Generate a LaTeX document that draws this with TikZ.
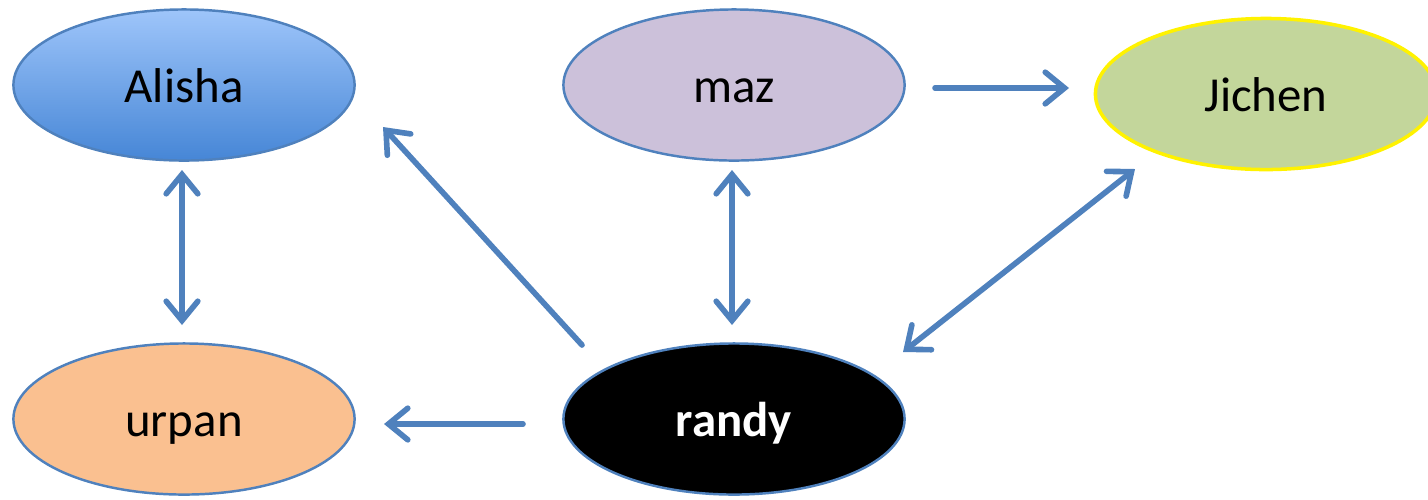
\documentclass[tikz,border=0pt]{standalone}
\usepackage{fontspec}
\setmainfont{Carlito}
\usetikzlibrary{shapes.geometric,arrows.meta,calc}
\definecolor{arrblue}{HTML}{4F81BD}
\definecolor{alitop}{HTML}{9EC5FA}
\definecolor{alibot}{HTML}{4686D6}
\definecolor{mazfill}{HTML}{CCC1DA}
\definecolor{jifill}{HTML}{C3D69B}
\definecolor{urfill}{HTML}{FAC090}
\tikzset{
  person/.style={ellipse, draw=arrblue, line width=0.7pt, minimum width=3.41cm, minimum height=1.51cm, inner sep=0pt,
    font=\fontsize{13.9}{16}\selectfont, text height=0.34cm, text depth=0pt},
  barb/.style={Straight Barb[length=5.5pt,width=9pt,line cap=round]},
  arr/.style={draw=arrblue, line width=1.6pt, line cap=round, -{Straight Barb[length=5.5pt,width=9pt,line cap=round]}},
  darr/.style={arr, {Straight Barb[length=5.5pt,width=9pt,line cap=round]}-{Straight Barb[length=5.5pt,width=9pt,line cap=round]}}
}
\begin{document}
\begin{tikzpicture}[x=0.01cm, y=-0.01cm]
\useasboundingbox (0,0) rectangle (1428,499);
\node[person, top color=alitop, bottom color=alibot] (alisha) at (184,85) {Alisha};
\node[person, fill=mazfill] (maz) at (734,85) {maz};
\node[person, fill=jifill, draw=yellow, line width=1pt] (jichen) at (1266,94) {Jichen};
\node[person, fill=urfill] (urpan) at (184,419) {urpan};
\node[person, fill=black, text=white, font=\fontsize{13.9}{16}\selectfont\bfseries] (randy) at (734,419) {randy};
\draw[darr] ($(alisha)+(-2,85)$) -- ($(urpan)+(-2,-94)$);
\draw[darr] ($(maz)+(-2,85)$) -- ($(randy)+(-2,-94)$);
\draw[arr] ($(maz)+(201,3)$) -- ($(jichen)+(-197,-6)$);
\draw[arr] ($(randy)+(-211,5)$) -- ($(urpan)+(200,5)$);
\draw[arr] ($(randy)+(-152,-74)$) -- ($(alisha)+(199,42)$);
\draw[darr] ($(jichen)+(-131,75)$) -- ($(randy)+(169,-67)$);
\end{tikzpicture}
\end{document}
